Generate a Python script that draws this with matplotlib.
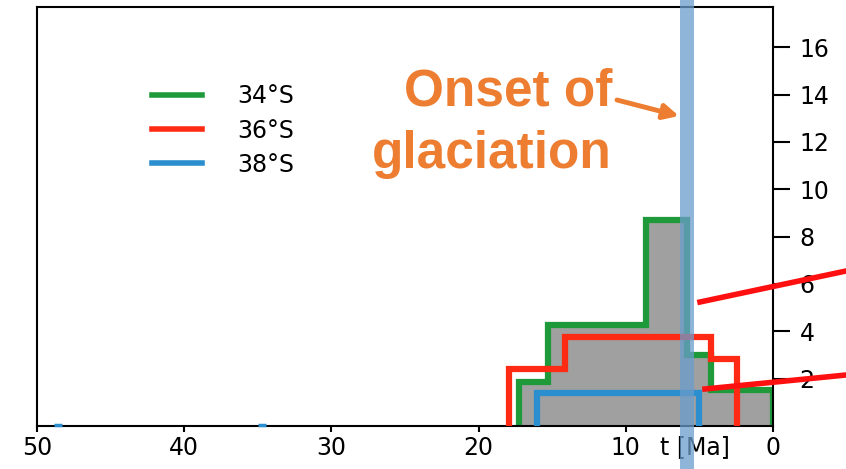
import matplotlib
matplotlib.use('Agg')
import matplotlib.pyplot as plt
from matplotlib.lines import Line2D

# step histograms (time in Ma, blocks listed from young to old)
green_edges = [0, 4.2, 5.85, 8.6, 15.3, 17.25]
green_vals = [1.5, 3.0, 8.7, 4.26, 1.87]
red_edges = [2.45, 4.2, 14.1, 17.9]
red_vals = [2.83, 3.77, 2.4]
blue_edges = [5.0, 16.0]
blue_vals = [1.4]
blue_dash_t = [48.6, 34.7]

labels = ['34°S', '36°S', '38°S']
colors = ['#1f9a3a', '#ff2a14', '#2b8fcf']
onset_t = 5.85
yticks = [2, 4, 6, 8, 10, 12, 14, 16]
xticks = [50, 40, 30, 20, 10, 0]

fig = plt.figure(figsize=(8.46, 4.69), dpi=100)
ax = fig.add_axes([0.0437, 0.0917, 0.87, 0.8933])

ax.stairs(green_vals, green_edges, fill=True, color='#a0a0a0', zorder=1)
ax.stairs(green_vals, green_edges, color=colors[0], lw=4.5, zorder=2)
ax.stairs(red_vals, red_edges, color=colors[1], lw=4.5, zorder=3)
ax.stairs(blue_vals, blue_edges, color=colors[2], lw=4.5, zorder=3)
ax.plot(blue_dash_t, [0.05] * len(blue_dash_t), ls='', marker='_', ms=6,
        mew=2.5, color=colors[2], zorder=3, clip_on=False)

# onset of glaciation band, runs over the whole figure height
ax.axvspan(onset_t - 0.5, onset_t + 0.5, ymin=-0.11, ymax=1.02,
           color='#6a9ccc', alpha=0.75, lw=0, zorder=5, clip_on=False)

ax.set_xlim(50, 0)
ax.set_ylim(0, 17.7)
ax.set_xticks(xticks)
ax.set_yticks(yticks)
ax.yaxis.tick_right()
ax.tick_params(axis='x', direction='out', length=4, width=1.5, labelsize=17, pad=3)
ax.tick_params(axis='y', direction='out', length=12, width=1.5, labelsize=17, pad=7)
for s in ax.spines.values():
    s.set_linewidth(1.5)
ax.set_xlabel('t [Ma]', fontsize=17)
ax.xaxis.set_label_coords(0.894, -0.022)

handles = [Line2D([], [], color=c, lw=4) for c in colors]
ax.legend(handles, labels, loc='upper left', bbox_to_anchor=(0.144, 0.838),
          borderaxespad=0, frameon=False, fontsize=17, handlelength=2.1,
          handletextpad=1.5, labelspacing=0.43)

orange = '#ed7d31'
fig.text(612 / 846, 1 - 168 / 469, 'Onset of\nglaciation', color=orange,
         fontsize=37, fontweight='bold', family='Liberation Sans',
         ha='right', va='baseline', linespacing=1.36, ma='right')
ax.annotate('', xy=(679 / 846, 1 - 116 / 469), xytext=(617 / 846, 1 - 100 / 469),
            xycoords='figure fraction', textcoords='figure fraction',
            arrowprops=dict(arrowstyle='-|>,head_length=0.9,head_width=0.45',
                            color=orange, lw=3.5, shrinkA=0, shrinkB=0), zorder=6)

# red pointer lines running off the right edge
for (x0, y0), (x1, y1) in [((700, 302), (846, 271)), ((705, 389), (846, 375))]:
    fig.add_artist(Line2D([x0 / 846, x1 / 846], [1 - y0 / 469, 1 - y1 / 469],
                          color='#ff1010', lw=4, zorder=7))

fig.savefig('out.png', dpi=100)
